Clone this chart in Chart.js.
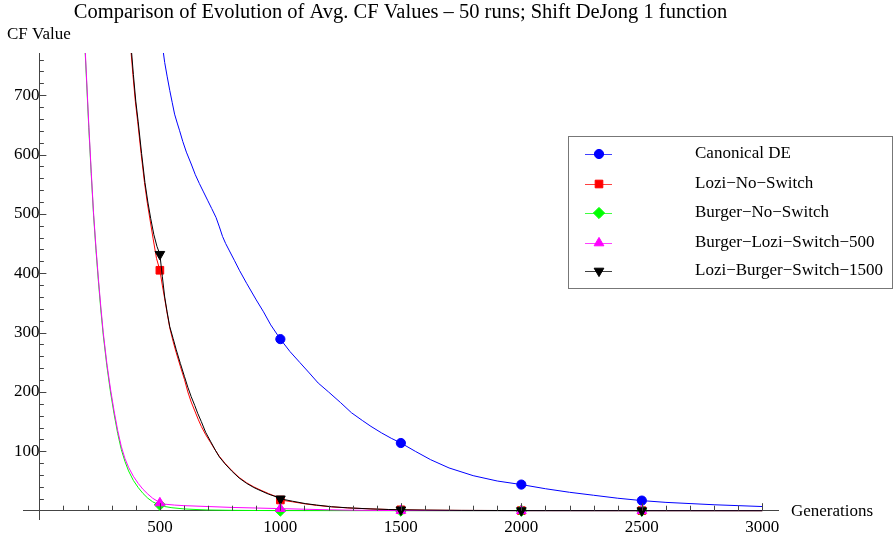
<!DOCTYPE html>
<html>
<head>
<meta charset="utf-8">
<script src="https://cdn.jsdelivr.net/npm/chart.js@4/dist/chart.umd.min.js"></script>
<style>
  html, body { margin: 0; padding: 0; background: #ffffff; }
  #wrap { position: relative; width: 894px; height: 537px; }
</style>
</head>
<body>
<div id="wrap"><canvas id="c" width="894" height="537"></canvas></div>
<script>
// ---------------- DATA ----------------
const chartTitle = "Comparison of Evolution of Avg. CF Values \u2013 50 runs; Shift DeJong 1 function";
const yAxisName = "CF Value";
const xAxisName = "Generations";
const seriesNames = ["Canonical DE", "Lozi\u2212No\u2212Switch", "Burger\u2212No\u2212Switch", "Burger\u2212Lozi\u2212Switch\u2212500", "Lozi\u2212Burger\u2212Switch\u22121500"];
const xTickLabels = [500, 1000, 1500, 2000, 2500, 3000];
const yTickLabels = [100, 200, 300, 400, 500, 600, 700];
const markerGens = [500, 1000, 1500, 2000, 2500];

const canonicalGen = [510, 520, 530, 541, 551, 561, 572, 582, 595, 610, 630, 647, 664, 681, 698, 715, 733, 747, 760, 773, 787, 810, 830, 860, 900, 930, 960, 1000, 1040, 1080, 1120, 1157, 1200, 1250, 1295, 1340, 1376, 1420, 1460, 1500, 1560, 1623, 1700, 1800, 1900, 2000, 2100, 2200, 2300, 2400, 2500, 2600, 2700, 2800, 2900, 3000];
const canonicalVal = [785, 755, 732, 708, 688, 668, 653, 640, 622, 604, 584, 566, 551, 537, 523, 509, 494, 478, 462, 450, 439, 421, 405, 383, 355, 335, 313, 289, 268, 250, 232, 215, 200, 182, 165, 152, 142, 131, 122, 114, 100, 86, 72, 59, 50, 44, 37, 31, 26, 21, 17, 14, 12, 10, 8.5, 7];

const loziGen = [378, 388, 398, 408, 422, 436, 448, 460, 472, 486, 500, 510, 520, 530, 541, 555, 568, 585, 602, 616, 630, 645, 660, 672, 690, 710, 730, 746, 770, 800, 829, 860, 890, 911, 950, 993, 1000, 1050, 1103, 1150, 1212, 1280, 1376, 1450, 1500, 1600, 1750, 2000, 2500, 3000];
const loziVal = [785, 735, 690, 655, 602, 553, 518, 488, 458, 425, 405, 380, 357, 333, 308, 285, 266, 243, 221, 200, 183, 168, 153, 142, 128, 115, 102, 92, 80, 67, 56, 47, 40, 36, 29, 22, 18, 15, 11.5, 9, 6.5, 4.7, 3, 2, 1.5, 0.9, 0.5, 0.2, 0.1, 0.05];

const burgerGen = [185, 195, 205, 215, 225, 235, 245, 255, 265, 280, 295, 310, 325, 340, 355, 370, 390, 410, 430, 450, 470, 490, 500, 520, 550, 600, 650, 700, 800, 900, 1000, 1500, 2000, 2500, 3000];
const burgerVal = [815, 730, 645, 568, 497, 438, 386, 338, 296, 244, 200, 163, 130, 103, 83, 67, 51, 39, 29, 21, 15, 11, 10, 7, 5, 3, 2, 1.2, 0.6, 0.3, 0.15, 0.02, 0, 0, 0];

const burgerLoziGen = [185, 195, 205, 215, 225, 235, 245, 255, 265, 280, 295, 310, 325, 340, 355, 370, 390, 410, 430, 450, 470, 490, 500, 520, 560, 600, 700, 800, 900, 1000, 1100, 1200, 1300, 1400, 1500, 2000, 2500, 3000];
const burgerLoziVal = [820, 735, 650, 572, 500, 442, 390, 343, 300, 248, 205, 168, 135, 108, 88, 73, 58, 46, 36, 28, 21, 16, 13, 11, 9.5, 8.5, 7, 5.5, 4.5, 3.5, 2.5, 1.5, 0.8, 0.4, 0.2, 0, 0, 0];

const loziBurgerGen = [380, 390, 400, 410, 424, 438, 450, 462, 475, 488, 500, 510, 520, 530, 541, 555, 568, 585, 602, 616, 630, 645, 657, 672, 690, 710, 730, 746, 770, 800, 829, 860, 890, 911, 950, 993, 1000, 1050, 1103, 1150, 1212, 1280, 1376, 1450, 1500, 1600, 1750, 2000, 2500, 3000];
const loziBurgerVal = [785, 735, 690, 655, 602, 553, 520, 492, 465, 445, 432, 395, 360, 335, 310, 290, 271, 248, 226, 208, 192, 177, 164, 150, 132, 117, 102, 91, 79, 66, 55, 46, 39, 35, 28, 22, 20, 16, 12, 9.5, 6.7, 4.8, 3, 2, 1.5, 1, 0.5, 0.2, 0.1, 0.05];

// ---------------- BUILD ----------------
const zip = (g, v) => g.map((x, i) => ({ x: x, y: v[i] }));
const seriesData = [
  zip(canonicalGen, canonicalVal),
  zip(loziGen, loziVal),
  zip(burgerGen, burgerVal),
  zip(burgerLoziGen, burgerLoziVal),
  zip(loziBurgerGen, loziBurgerVal)
];
const seriesColors = ['#0000ff', '#ff0000', '#00ff00', '#ff00ff', '#000000'];
const seriesStyles = ['circle', 'rect', 'rectRot', 'triangle', 'triangle'];
const seriesRot = [0, 0, 0, 0, 180];
const seriesRadius = [4.6, 5.4, 5.6, 5.6, 5.6];

const SERIF = "'Liberation Serif', 'DejaVu Serif', serif";

const datasets = seriesData.map((d, i) => ({
  label: seriesNames[i],
  data: d,
  borderColor: seriesColors[i],
  backgroundColor: seriesColors[i],
  borderWidth: 1,
  fill: false,
  tension: 0,
  pointStyle: seriesStyles[i],
  rotation: seriesRot[i],
  pointRadius: ctx => (ctx.raw && markerGens.includes(ctx.raw.x)) ? seriesRadius[i] : 0,
  pointBorderWidth: 1,
  pointBorderColor: seriesColors[i],
  pointBackgroundColor: seriesColors[i],
  order: 5 - i
}));

const extrasPlugin = {
  id: 'extras',
  afterDraw(chart) {
    const ctx = chart.ctx;
    const xs = chart.scales.x, ys = chart.scales.y;
    const x0 = xs.getPixelForValue(0), y0 = ys.getPixelForValue(0);
    ctx.save();
    ctx.strokeStyle = '#444';
    ctx.lineWidth = 1;
    ctx.beginPath();
    // y ticks (every 20, major every 100), pointing right
    for (let v = 20; v <= 760; v += 20) {
      const py = Math.round(ys.getPixelForValue(v)) + 0.5;
      const len = (v % 100 === 0) ? 7 : 4.5;
      ctx.moveTo(x0, py); ctx.lineTo(x0 + len, py);
    }
    // x ticks (every 100, major every 500), pointing up
    for (let v = 100; v <= 3000; v += 100) {
      const px = Math.round(xs.getPixelForValue(v)) + 0.5;
      const len = (v % 500 === 0) ? 7.5 : 5;
      ctx.moveTo(px, y0); ctx.lineTo(px, y0 - len);
    }
    ctx.stroke();

    // axis names
    ctx.fillStyle = '#000';
    ctx.textBaseline = 'alphabetic';
    ctx.textAlign = 'left';
    ctx.font = "17px " + SERIF;
    ctx.fillText(yAxisName, 7, 39);
    ctx.fillText(xAxisName, 791, 516);

    // legend
    const bx = 568.5, by = 136.5, bw = 324, bh = 152;
    ctx.fillStyle = '#fff';
    ctx.fillRect(bx, by, bw, bh);
    ctx.strokeStyle = '#777';
    ctx.lineWidth = 1;
    ctx.strokeRect(bx, by, bw, bh);
    const rowY = [154, 184, 213, 243, 271];
    chart.data.datasets.forEach((ds, i) => {
      const cy = rowY[i];
      ctx.strokeStyle = seriesColors[i];
      ctx.globalAlpha = 0.75;
      ctx.beginPath();
      ctx.moveTo(585, cy + 0.5); ctx.lineTo(612, cy + 0.5);
      ctx.stroke();
      ctx.globalAlpha = 1;
      ctx.fillStyle = seriesColors[i];
      ctx.strokeStyle = seriesColors[i];
      Chart.helpers.drawPoint(ctx, { pointStyle: seriesStyles[i], rotation: seriesRot[i], radius: seriesRadius[i], borderWidth: 1 }, 599, cy);
      ctx.fillStyle = '#000';
      ctx.font = "17px " + SERIF;
      ctx.textBaseline = 'middle';
      ctx.fillText(ds.label, 695, cy);
    });
    ctx.restore();
  }
};

new Chart(document.getElementById('c'), {
  type: 'line',
  data: { datasets: datasets },
  options: {
    responsive: false,
    animation: false,
    devicePixelRatio: 1,
    layout: { padding: { left: 23, right: 116, top: 0, bottom: 18 } },
    plugins: {
      legend: { display: false },
      tooltip: { enabled: false },
      title: {
        display: true,
        text: chartTitle,
        color: '#000',
        font: { family: SERIF, size: 20.5, weight: 'normal' },
        padding: { top: 0, bottom: 28.4 }
      }
    },
    scales: {
      x: {
        type: 'linear',
        min: -68, max: 3065,
        position: { y: 0 },
        afterBuildTicks: s => { s.ticks = xTickLabels.map(v => ({ value: v })); },
        afterFit: s => { s.height = 0; },
        grid: { display: true, drawOnChartArea: false, drawTicks: false },
        border: { display: true, color: '#444', width: 1 },
        ticks: { autoSkip: false, maxRotation: 0, padding: 7, color: '#000', font: { family: SERIF, size: 17 }, callback: v => String(v) }
      },
      y: {
        type: 'linear',
        min: -14, max: 771,
        position: { x: 0 },
        afterBuildTicks: s => { s.ticks = yTickLabels.map(v => ({ value: v })); },
        afterFit: s => { s.width = 0; },
        grid: { display: true, drawOnChartArea: false, drawTicks: false },
        border: { display: true, color: '#444', width: 1 },
        ticks: { autoSkip: false, padding: 6, color: '#000', font: { family: SERIF, size: 17 }, callback: v => String(v) }
      }
    }
  },
  plugins: [extrasPlugin]
});
</script>
</body>
</html>
